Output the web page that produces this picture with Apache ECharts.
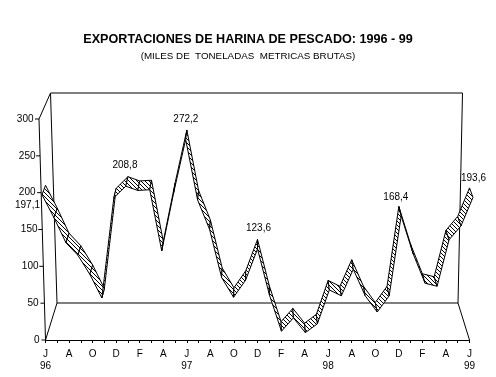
<!DOCTYPE html>
<html>
<head>
<meta charset="utf-8">
<style>html,body{margin:0;padding:0;background:#fff}#c{width:496px;height:377px}</style>
<script src="https://cdn.jsdelivr.net/npm/echarts@6/dist/echarts.min.js"></script>
</head>
<body>
<div id="c"></div>
<script>
const titleText = 'EXPORTACIONES DE HARINA DE PESCADO: 1996 - 99';
const subtitleText = '(MILES DE  TONELADAS  METRICAS BRUTAS)';
const categories = ['J\n96','','A','','O','','D','','F','','A','','J\n97','','A','','O','','D','','F','','A','','J\n98','','A','','O','','D','','F','','A','','J\n99'];
const exportValues = [197.1,166,132,115,89,57,193,208.8,203,204,121,200,272.2,190,150,85,58,81,123.6,61,12,30,10,22,68,60,96,60,38,60,168.4,117,77,73,136,155,193.6];
const labelledPoints = [0,7,12,18,30,36];
const yTicks = [0,50,100,150,200,250,300];

const FONT = '"Liberation Sans", Arial, sans-serif';
// label centre relative to the point's position on the scales
const labelOffsets = {0:[-18,10],7:[-3,-21],12:[-1,-20],18:[1,-21],30:[-3,-19],36:[4,-19]};
const yLabelPad = {0:0,50:1,100:1,150:2,200:4,250:4,300:6};

function hatch(){
  const c = document.createElement('canvas'); c.width = 4; c.height = 4;
  const g = c.getContext('2d'); g.fillStyle='#fff'; g.fillRect(0,0,4,4);
  g.fillStyle='#000'; for(let i=0;i<4;i++) g.fillRect(i,i,1,1);
  return c;
}
const hatchImage = hatch();

// Perspective of the 3D ribbon: the near edge is fanned out a little from the axis positions
const DEPTH = 9.5;
function nearX(x, mid){ return x + (x - mid) * 0.0165; }

const rich = {};
yTicks.forEach(v => { rich['t'+v] = {padding:[0,yLabelPad[v],0,0], fontSize:10, fontFamily:FONT, color:'#000'}; });

const chart = echarts.init(document.getElementById('c'), null, {renderer:'canvas'});

function line(x1,y1,x2,y2){
  return {type:'line', shape:{x1,y1,x2,y2}, style:{stroke:'#000', lineWidth:1, fill:null}, silent:true};
}

chart.setOption({
  animation:false,
  backgroundColor:'#fff',
  title:[
    {text:titleText,left:'center',top:33,padding:0,textStyle:{fontFamily:FONT,fontSize:12.6,fontWeight:'bold',color:'#000'}},
    {text:subtitleText,left:'center',top:51,padding:0,textStyle:{fontFamily:FONT,fontSize:9.8,fontWeight:'normal',color:'#000'}}
  ],
  grid:{left:45.5,right:26.5,top:119,bottom:37},
  xAxis:{type:'category',data:categories,boundaryGap:false,
    axisLine:{show:true,lineStyle:{color:'#000',width:1}},
    axisTick:{show:true,interval:0,length:3,lineStyle:{color:'#000'}},
    axisLabel:{interval:0,color:'#000',fontFamily:FONT,fontSize:10,margin:8,lineHeight:12},
    splitLine:{show:false}},
  yAxis:{type:'value',min:0,max:300,interval:50,
    axisLine:{show:false},axisTick:{show:false},splitLine:{show:false},
    axisLabel:{margin:6,formatter:v=>'{t'+v+'|'+v+'}',rich}},
  series:[
    { // slanted walls, floor and value-axis ticks
      type:'custom',silent:true,clip:false,z:1,data:[[0,0]],
      renderItem(params,api){
        const o = api.coord([0,0]), e = api.coord([categories.length-1,0]), t = api.coord([0,300]);
        const fl = o[0], fb = o[1], fr = e[0];
        const skew = 6.5, dx = 11.5, dy = 37, rise = 26;
        const topY = t[1]-rise;
        const kids = [
          line(fl,fb,fl-skew,t[1]),
          line(fl,fb,fl+dx,fb-dy),
          line(fl-skew,t[1],fl+dx-skew,topY),
          line(fl+dx,fb-dy,fl+dx-skew,topY),
          line(fl+dx-skew,topY,fr-7,topY),
          line(fr-7,topY,fr-dx,fb-dy),
          line(fl+dx,fb-dy,fr-dx,fb-dy),
          line(fr-dx,fb-dy,fr,fb)
        ];
        yTicks.forEach(v=>{
          const y = api.coord([0,v])[1], x = fl - skew*v/300;
          kids.push(line(x-4,y,x,y));
        });
        return {type:'group',children:kids};
      }
    },
    { // hatched ribbon
      type:'custom',clip:false,z:2,silent:true,
      data:exportValues.slice(0,-1).map((v,i)=>[i,v,exportValues[i+1]]),
      renderItem(params,api){
        const i = api.value(0);
        const a = api.coord([i,api.value(1)]), b = api.coord([i+1,api.value(2)]);
        const mid = (api.coord([0,0])[0]+api.coord([categories.length-1,0])[0])/2 ;
        return {type:'polygon',
          shape:{points:[[nearX(a[0],mid),a[1]],[nearX(b[0],mid),b[1]],[b[0],b[1]-DEPTH],[a[0],a[1]-DEPTH]]},
          style:{fill:{image:hatchImage,repeat:'repeat'},stroke:'#000',lineWidth:1,lineJoin:'miter'}};
      }
    },
    { // value labels
      type:'custom',clip:false,z:3,silent:true,
      data:labelledPoints.map(i=>[i,exportValues[i]]),
      renderItem(params,api){
        const i = api.value(0), v = api.value(1), p = api.coord([i,v]), off = labelOffsets[i];
        return {type:'text',
          style:{x:p[0]+off[0],y:p[1]+off[1],text:String(v).replace('.',','),
            align:'center',verticalAlign:'middle',
            font:'10px '+FONT,fill:'#000'}};
      }
    }
  ]
});
</script>
</body>
</html>
